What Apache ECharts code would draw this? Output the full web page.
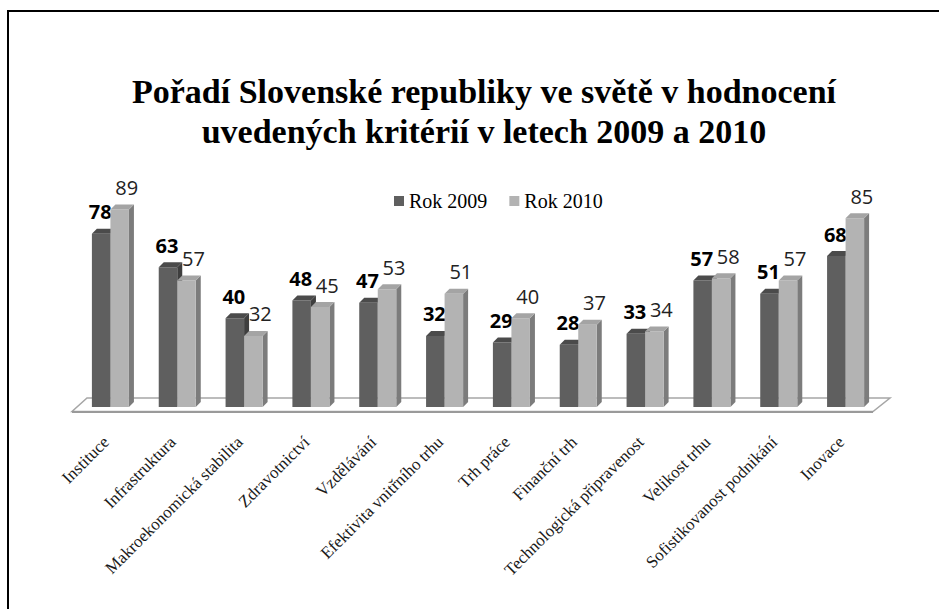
<!DOCTYPE html>
<html><head><meta charset="utf-8">
<script src="https://cdn.jsdelivr.net/npm/echarts@6/dist/echarts.min.js"></script>
<style>html,body{margin:0;padding:0;background:#fff}#c{width:939px;height:609px}</style>
</head><body><div id="c"></div>
<script>
const categories = ['Instituce','Infrastruktura','Makroekonomická stabilita','Zdravotnictví','Vzdělávání','Efektivita vnitřního trhu','Trh práce','Finanční trh','Technologická připravenost','Velikost trhu','Sofistikovanost podnikání','Inovace'];
const rok2009 = [78,63,40,48,47,32,29,28,33,57,51,68];
const rok2010 = [89,57,32,45,53,51,40,37,34,58,57,85];
const seriesNames = ['Rok 2009','Rok 2010'];
const titleText = 'Pořadí Slovenské republiky ve světě v hodnocení\nuvedených kritérií v letech 2009 a 2010';

const darkColors = {front:'#5f5f5f', top:'#4b4b4b', side:'#3e3e3e'};
const lightColors = {front:'#b3b3b3', top:'#a4a4a4', side:'#7c7c7c'};

function makeBar(seriesIdx, colors, bold, labelDx) {
  return function (params, api) {
    const idx = api.value(0), val = api.value(1);
    const top = api.coord([idx, val]);
    const base = api.coord([idx, 0]);
    const band = api.size([1, 0])[0];
    const w = band * 0.277;
    const x0 = seriesIdx === 0 ? top[0] - w : top[0];
    const x1 = x0 + w;
    const yt = top[1], yb = base[1];
    const d = 5;
    return {type:'group', children:[
      {type:'polygon', shape:{points:[[x1,yt],[x1+d,yt-d],[x1+d,yb-d],[x1,yb]]}, style:{fill:colors.side}},
      {type:'rect', shape:{x:x0,y:yt,width:w,height:yb-yt}, style:{fill:colors.front}},
      {type:'polygon', shape:{points:[[x0,yt],[x1,yt],[x1+d,yt-d],[x0+d,yt-d]]}, style:{fill:colors.top}},
      {type:'text', style:{x:(x0+x1)/2+labelDx, y:yt-22, text:String(val), fill: bold ? '#000' : '#222',
        fontFamily:'Open Sans', fontSize:20, fontWeight: bold ? 'bold' : 'normal', align:'center', verticalAlign:'middle'}}
    ]};
  };
}

function floorItem(params, api) {
  const cs = params.coordSys;
  const b = cs.y + cs.height;
  const l = cs.x, r = cs.x + cs.width;
  return {type:'group', children:[
    {type:'polygon', shape:{points:[[l+10,b-9],[r+11,b-9],[r-6,b+4.5],[l-5,b+4.5]]},
      style:{fill:'#ffffff', stroke:'#a6a6a6', lineWidth:1.5}},
    {type:'line', shape:{x1:l-5,y1:b+5,x2:r-6,y2:b+5}, style:{stroke:'#9a9a9a', lineWidth:2}}
  ]};
}

const chart = echarts.init(document.getElementById('c'), null, {renderer:'svg'});
chart.setOption({
  backgroundColor:'#fff',
  animation:false,
  title:{text:titleText, left:479, top:66, textAlign:'center',
    textStyle:{fontFamily:'Liberation Serif', fontWeight:'bold', fontSize:34, lineHeight:40, color:'#000'}},
  legend:{left:389, top:186, itemWidth:10, itemHeight:10, itemGap:22, icon:'rect',
    textStyle:{fontFamily:'Liberation Serif', fontSize:20, color:'#000'},
    data:[{name:seriesNames[0], itemStyle:{color:darkColors.front}},{name:seriesNames[1], itemStyle:{color:lightColors.front}}]},
  grid:{left:77, right:60, top:185, bottom:202},
  xAxis:{type:'category', data:categories, axisLine:{show:false}, axisTick:{show:false},
    axisLabel:{rotate:45, interval:0, margin:28, padding:[0,6,0,0], fontFamily:'Liberation Serif', fontSize:17, color:'#1a1a1a'}},
  yAxis:{type:'value', min:0, max:100, show:false},
  graphic:[{type:'polyline', shape:{points:[[8,609],[8,11],[939,11]]}, style:{stroke:'#000', lineWidth:2, fill:null}}],
  series:[
    {type:'custom', name:'floor', silent:true, renderItem:floorItem, data:[[0,0]], encode:{x:0,y:1}, z:1},
    {type:'custom', name:seriesNames[0], itemStyle:{color:darkColors.front}, renderItem:makeBar(0, darkColors, true, -1),
      data:rok2009.map((v,i)=>[i,v]), encode:{x:0,y:1}, z:2},
    {type:'custom', name:seriesNames[1], itemStyle:{color:lightColors.front}, renderItem:makeBar(1, lightColors, false, 7),
      data:rok2010.map((v,i)=>[i,v]), encode:{x:0,y:1}, z:3}
  ]
});
</script></body></html>
